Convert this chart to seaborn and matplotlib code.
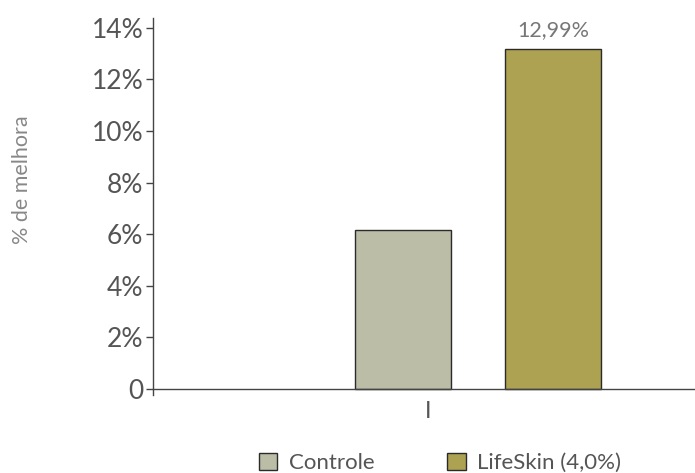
import seaborn as sns
import matplotlib.pyplot as plt
import pandas as pd

# data
grupos = ['I', 'I']
series = ['Controle', 'LifeSkin (4,0%)']
valores = [6.15, 13.2]
rotulo_valor = ['', '12,99%']
cores = ['#BBBDA6', '#ADA251']
yticks = [0, 2, 4, 6, 8, 10, 12, 14]
ytick_labels = ['0', '2%', '4%', '6%', '8%', '10%', '12%', '14%']

df = pd.DataFrame({'grupo': grupos, 'serie': series, 'valor': valores})

sns.set_style('white')
plt.rcParams['font.family'] = ['Lato', 'DejaVu Sans']

fig = plt.figure(figsize=(6.95, 4.73), dpi=100)
ax = fig.add_axes([0.2201, 0.164, 0.78, 0.7988])

sns.barplot(data=df, x='grupo', y='valor', hue='serie', palette=cores,
            saturation=1, gap=0.36, edgecolor='#2b2b2b', linewidth=1, ax=ax)

ax.set_ylim(-0.25, 14.4)
ax.set_xlim(-0.8667, 0.578)
ax.set_yticks(yticks)
ax.set_yticklabels(ytick_labels, fontsize=19, color='#555555')
ax.tick_params(axis='y', left=True, direction='out', length=5, width=1,
               color='#444444', pad=2)
# category label sits a bit left of the bar pair in the original
ax.set_xticks([-0.1333], [grupos[0]])
ax.tick_params(axis='x', length=0, labelsize=17, labelcolor='#555555', pad=9)

for s in ['top', 'right']:
    ax.spines[s].set_visible(False)
ax.spines['bottom'].set_position(('data', 0))
for s in ['left', 'bottom']:
    ax.spines[s].set_color('#444444')
    ax.spines[s].set_linewidth(1)

ax.set_xlabel('')
ax.set_ylabel('')
fig.text(0.032, 0.62, '% de melhora', rotation=90, ha='center', va='center',
         fontsize=15.5, color='#888888')

for cont, txt in zip(ax.containers, rotulo_valor):
    ax.bar_label(cont, labels=[txt], padding=6, fontsize=15.5, color='#777777')

ax.legend(loc='center', bbox_to_anchor=(440 / 695, 1 - 463 / 473),
          bbox_transform=fig.transFigure, ncol=2, frameon=False,
          fontsize=16, labelcolor='#555555', handlelength=0.85, handleheight=0.85,
          columnspacing=3.3, handletextpad=0.5)

fig.savefig('out.png', dpi=100)
